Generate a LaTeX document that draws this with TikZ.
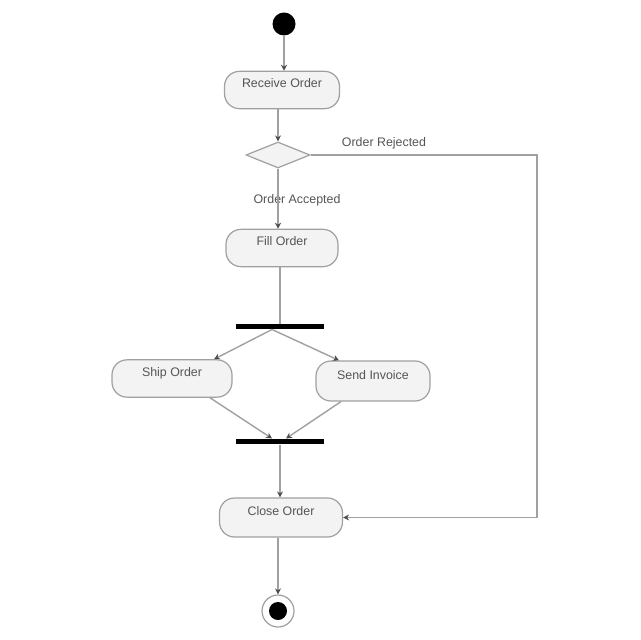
\documentclass[tikz,border=0pt]{standalone}
\usepackage{fontspec}
\setmainfont{Liberation Sans}
\usetikzlibrary{shapes.geometric,arrows.meta}
\definecolor{edgegray}{HTML}{A0A0A0}
\definecolor{boxfill}{HTML}{F3F3F3}
\definecolor{txtgray}{HTML}{555555}
\begin{document}
\begin{tikzpicture}[x=0.5pt,y=-0.5pt,
  action/.style={draw=edgegray, fill=boxfill, rounded corners=7.5pt, line width=0.6pt,
    font=\fontsize{6.2}{7}\selectfont, text=txtgray, text height=5pt, text depth=7pt,
    inner xsep=3pt, minimum height=18pt},
  bar/.style={fill=black, draw=none, minimum width=44pt, minimum height=2.6pt, inner sep=0pt},
  decision/.style={diamond, draw=edgegray, fill=boxfill, line width=0.6pt,
    minimum width=32pt, minimum height=13pt, inner sep=0pt},
  lbl/.style={font=\fontsize{6.2}{7}\selectfont, text=txtgray, inner sep=1pt},
  flow/.style={draw=edgegray, line width=0.7pt, -{Stealth[length=3pt,width=3pt,color=black!70]}},
  plain/.style={draw=edgegray, line width=0.7pt}]
\useasboundingbox (0,0) rectangle (640,640);
\fill[white] (0,0) rectangle (640,640);

% initial and final states
\node[circle, fill=black, minimum size=11.5pt, inner sep=0pt] (start) at (284,24) {};
\node[circle, draw=edgegray, line width=0.6pt, minimum size=16pt, inner sep=0pt] (endring) at (278,611) {};
\node[circle, fill=black, minimum size=9pt, inner sep=0pt] (end) at (278,611) {};

% actions
\node[action, minimum width=57.5pt] (recv) at (282,90) {Receive Order};
\node[decision] (dec) at (278,155) {};
\node[action, minimum width=56pt] (fill) at (282,248) {Fill Order};
\node[bar] (fork) at (280,326.5) {};
\node[action, minimum width=60pt] (ship) at (172,378.5) {Ship Order};
\node[action, minimum width=57pt, minimum height=20pt] (inv) at (373,381) {Send Invoice};
\node[bar] (join) at (280,441.5) {};
\node[action, minimum width=61.5pt, minimum height=19.5pt] (close) at (281,517.5) {Close Order};

% guard labels
\node[lbl] (rej) at (384,143) {Order Rejected};
\node[lbl] (acc) at (297,200) {Order Accepted};

% control flow
\draw[flow] (start) -- (recv.north -| start);
\draw[flow] (recv.south -| dec) -- (dec.north);
\draw[flow] (dec.south) -- (fill.north -| dec);
\draw[plain] (fill.south -| fork) -- (fork.north);
\draw[flow] ([xshift=-4pt]fork.south) -- ([xshift=21pt]ship.north);
\draw[flow] ([xshift=-4pt]fork.south) -- ([xshift=-17pt]inv.north);
\draw[flow] ([xshift=19pt]ship.south) -- ([xshift=-4pt]join.north);
\draw[flow] ([xshift=-16pt]inv.south) -- ([xshift=3pt]join.north);
\draw[flow] (join.south) -- (close.north -| join);
\coordinate (rjturn) at (537,155);
\draw[flow] (dec.east) -- (rjturn) |- (close.east);
\draw[flow] (close.south -| end) -- (endring.north);
\end{tikzpicture}
\end{document}
